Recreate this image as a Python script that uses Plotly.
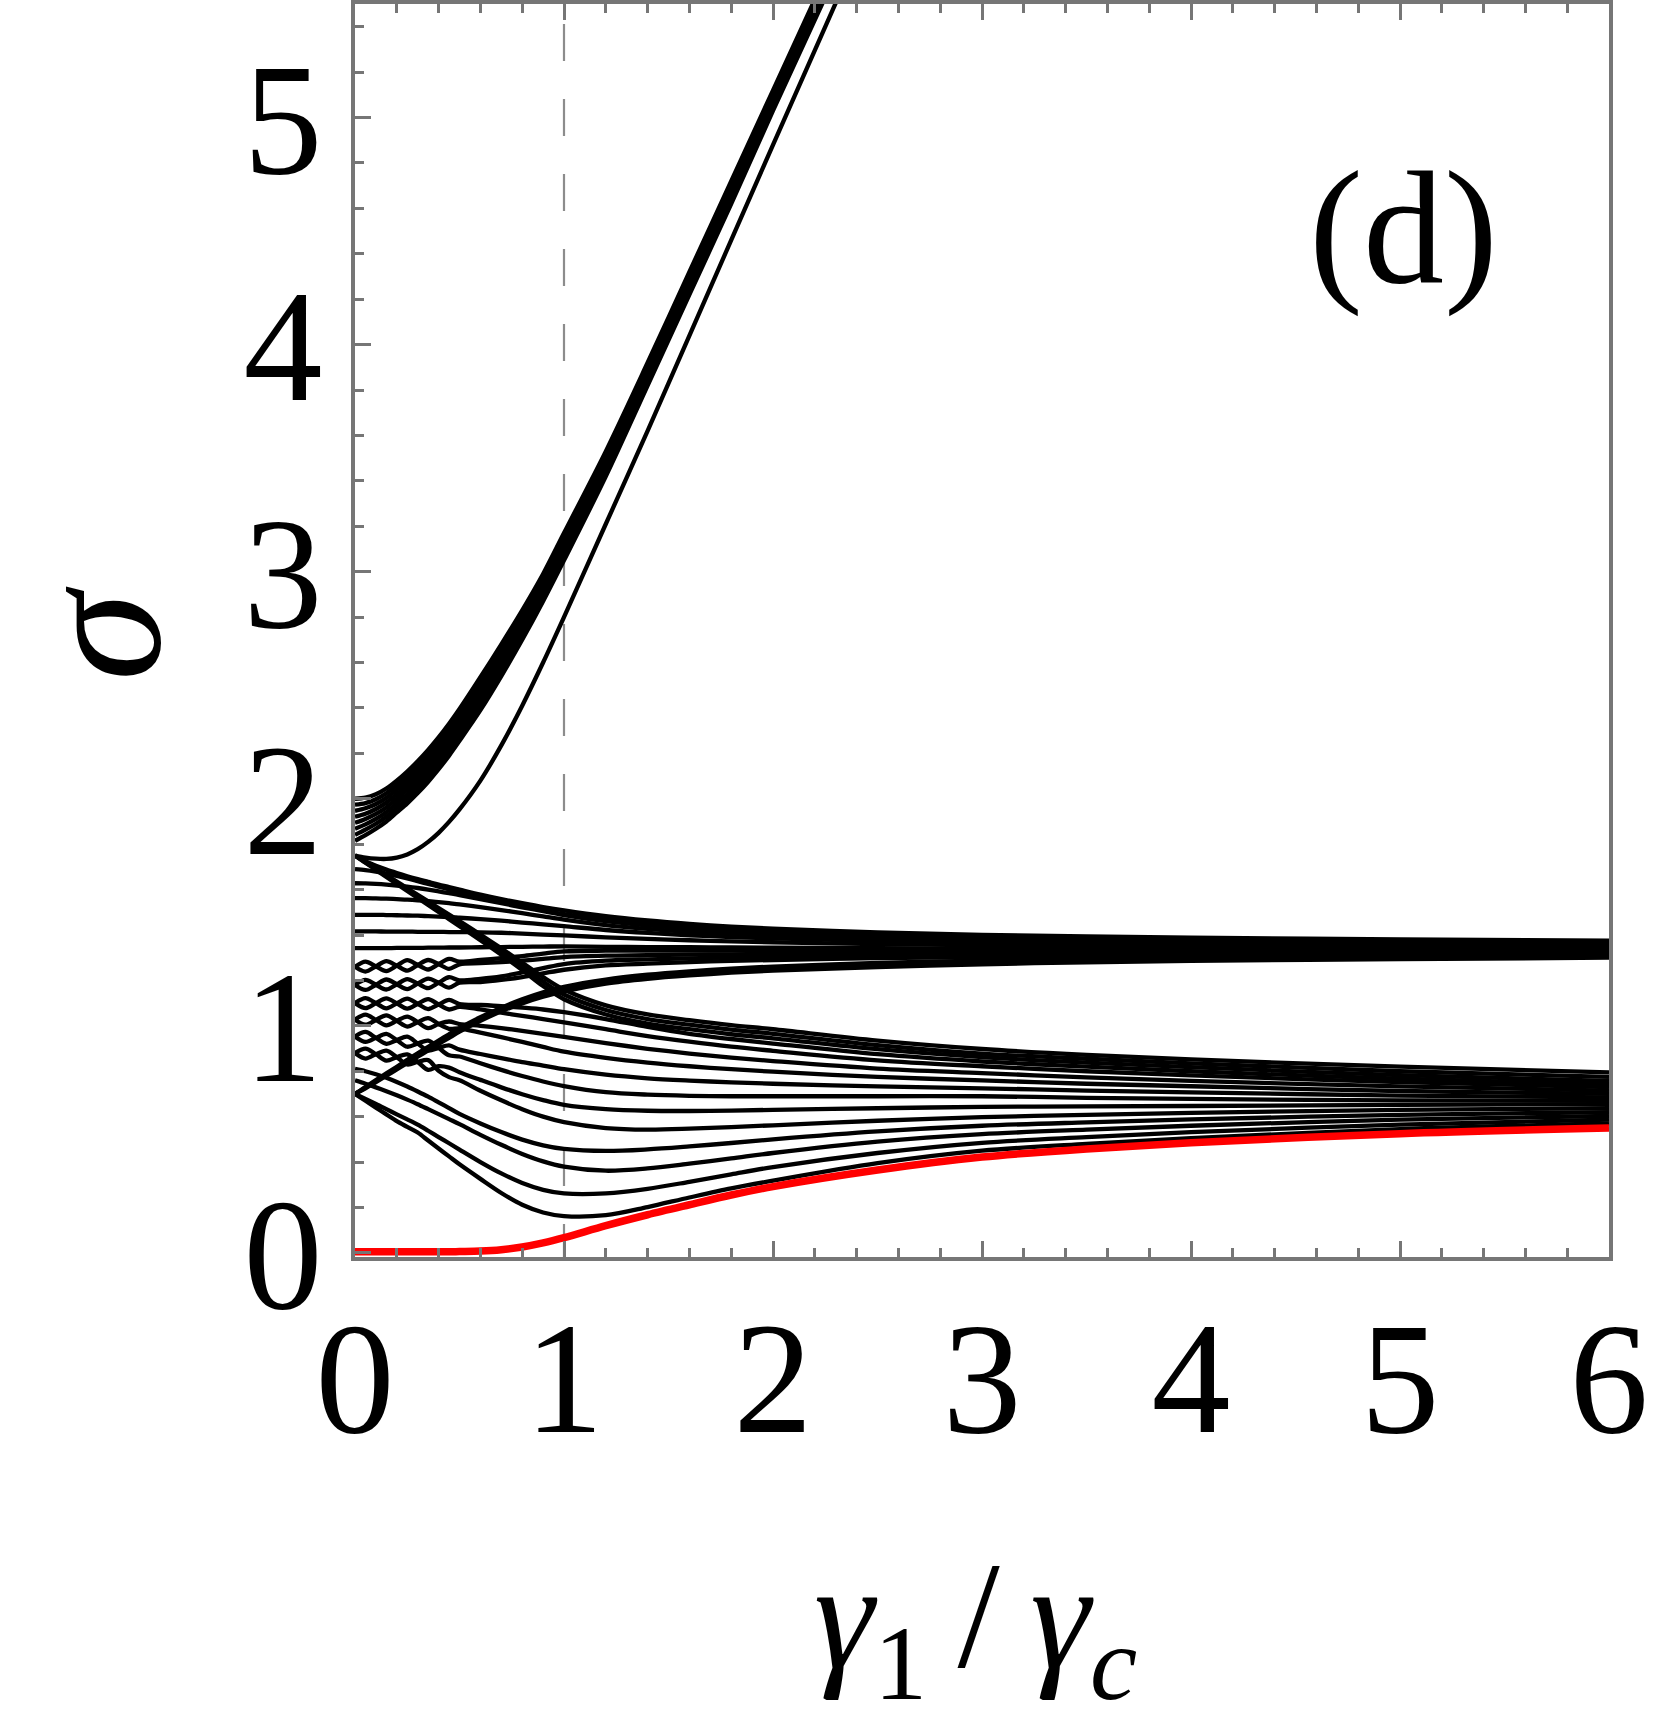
import plotly.graph_objects as go

# gamma_1 / gamma_c sample points
GAMMA = [0, 0.05, 0.1, 0.15, 0.2, 0.25, 0.3, 0.35, 0.4, 0.45,
         0.5, 0.6, 0.7, 0.8, 0.9, 1.0, 1.2, 1.4, 1.6, 1.8,
         2.0, 2.5, 3.0, 3.5, 4.0, 5.0, 6.0]
N = None

# upper branch (leaves the frame near gamma_1/gamma_c ~ 2.2)
U1 = [2.00, 2.005, 2.02, 2.045, 2.08, 2.12, 2.165, 2.215, 2.27, 2.33, 2.395, 2.535, 2.68, 2.83, 2.99, 3.17, 3.53, 3.92, 4.32, 4.72, 5.12, 6.12, N, N, N, N, N]
U2 = [1.974, 1.981, 1.998, 2.024, 2.06, 2.10, 2.145, 2.195, 2.25, 2.31, 2.375, 2.514, 2.66, 2.811, 2.973, 3.153, 3.514, 3.906, 4.306, 4.706, 5.107, 6.107, N, N, N, N, N]
U3 = [1.947, 1.958, 1.977, 2.004, 2.04, 2.08, 2.125, 2.175, 2.23, 2.29, 2.355, 2.494, 2.64, 2.793, 2.956, 3.136, 3.499, 3.891, 4.291, 4.691, 5.094, 6.094, N, N, N, N, N]
U4 = [1.921, 1.934, 1.955, 1.983, 2.02, 2.06, 2.105, 2.155, 2.21, 2.27, 2.335, 2.473, 2.62, 2.774, 2.939, 3.119, 3.483, 3.877, 4.277, 4.677, 5.081, 6.081, N, N, N, N, N]
U5 = [1.894, 1.911, 1.933, 1.962, 2.0, 2.04, 2.085, 2.135, 2.19, 2.25, 2.315, 2.452, 2.60, 2.756, 2.921, 3.101, 3.467, 3.863, 4.263, 4.663, 5.069, 6.069, N, N, N, N, N]
U6 = [1.868, 1.887, 1.911, 1.941, 1.98, 2.02, 2.065, 2.115, 2.17, 2.23, 2.295, 2.431, 2.58, 2.737, 2.904, 3.084, 3.451, 3.849, 4.249, 4.649, 5.056, 6.056, N, N, N, N, N]
U7 = [1.841, 1.864, 1.89, 1.921, 1.96, 2.0, 2.045, 2.095, 2.15, 2.21, 2.275, 2.411, 2.56, 2.719, 2.887, 3.067, 3.436, 3.834, 4.234, 4.634, 5.043, 6.043, N, N, N, N, N]
U8 = [1.815, 1.84, 1.868, 1.90, 1.94, 1.98, 2.025, 2.075, 2.13, 2.19, 2.255, 2.39, 2.54, 2.70, 2.87, 3.05, 3.42, 3.82, 4.22, 4.62, 5.03, 6.03, N, N, N, N, N]
T1 = [1.75, 1.741, 1.736, 1.735, 1.741, 1.755, 1.778, 1.81, 1.85, 1.898, 1.953, 2.08, 2.235, 2.41, 2.60, 2.80, 3.21, 3.62, 4.04, 4.46, 4.88, 5.92, N, N, N, N, N]

# middle branch (-> ~1.34)
M1 = [1.75, 1.725, 1.705, 1.688, 1.673, 1.659, 1.646, 1.634, 1.622, 1.611, 1.60, 1.578, 1.558, 1.54, 1.523, 1.508, 1.483, 1.464, 1.449, 1.437, 1.428, 1.411, 1.401, 1.394, 1.388, 1.381, 1.375]
M2 = [1.69, 1.686, 1.679, 1.67, 1.66, 1.649, 1.637, 1.625, 1.613, 1.601, 1.589, 1.567, 1.546, 1.527, 1.509, 1.492, 1.469, 1.451, 1.437, 1.426, 1.417, 1.402, 1.392, 1.385, 1.380, 1.373, 1.367]
M3 = [1.628, 1.627, 1.625, 1.622, 1.618, 1.613, 1.607, 1.60, 1.592, 1.584, 1.576, 1.558, 1.54, 1.522, 1.505, 1.488, 1.461, 1.442, 1.428, 1.417, 1.408, 1.393, 1.384, 1.378, 1.373, 1.366, 1.36]
M4 = [1.562, 1.562, 1.561, 1.56, 1.558, 1.556, 1.553, 1.549, 1.545, 1.54, 1.535, 1.523, 1.51, 1.496, 1.482, 1.468, 1.444, 1.427, 1.414, 1.404, 1.396, 1.383, 1.375, 1.369, 1.365, 1.359, 1.354]
M5 = [1.489, 1.489, 1.489, 1.488, 1.487, 1.486, 1.485, 1.483, 1.481, 1.479, 1.476, 1.47, 1.463, 1.455, 1.447, 1.439, 1.422, 1.409, 1.399, 1.391, 1.385, 1.374, 1.366, 1.361, 1.358, 1.352, 1.348]
M6 = [1.416, 1.416, 1.416, 1.415, 1.415, 1.415, 1.414, 1.414, 1.414, 1.413, 1.413, 1.412, 1.41, 1.406, 1.402, 1.398, 1.39, 1.383, 1.377, 1.372, 1.368, 1.360, 1.355, 1.351, 1.349, 1.345, 1.342]
M7 = [1.342, 1.342, 1.342, 1.342, 1.343, 1.343, 1.343, 1.344, 1.344, 1.345, 1.345, 1.346, 1.347, 1.348, 1.349, 1.35, 1.348, 1.347, 1.346, 1.345, 1.344, 1.342, 1.341, 1.340, 1.339, 1.337, 1.336]
MB4 = [1.26, 1.283, 1.262, 1.241, 1.265, 1.289, 1.268, 1.248, 1.272, 1.295, 1.283, 1.29, 1.298, 1.307, 1.318, 1.328, 1.331, 1.331, 1.331, 1.331, 1.331, 1.331, 1.331, 1.33, 1.33, 1.33, 1.33]
MB3 = [1.26, 1.239, 1.262, 1.285, 1.265, 1.243, 1.268, 1.29, 1.272, 1.251, 1.271, 1.276, 1.281, 1.287, 1.295, 1.303, 1.309, 1.311, 1.314, 1.315, 1.317, 1.319, 1.321, 1.322, 1.323, 1.324, 1.325]
MB2 = [1.18, 1.202, 1.181, 1.16, 1.183, 1.206, 1.186, 1.166, 1.19, 1.214, 1.20, 1.207, 1.218, 1.235, 1.254, 1.272, 1.287, 1.293, 1.297, 1.301, 1.304, 1.308, 1.312, 1.314, 1.316, 1.318, 1.32]
MB1 = [1.18, 1.158, 1.181, 1.204, 1.183, 1.162, 1.186, 1.208, 1.19, 1.168, 1.19, 1.193, 1.202, 1.215, 1.231, 1.247, 1.266, 1.274, 1.281, 1.286, 1.290, 1.298, 1.302, 1.306, 1.308, 1.312, 1.315]
MU1 = [0.70, 0.725, 0.752, 0.78, 0.808, 0.836, 0.864, 0.892, 0.92, 0.947, 0.974, 1.022, 1.064, 1.099, 1.128, 1.152, 1.186, 1.207, 1.222, 1.234, 1.243, 1.259, 1.271, 1.280, 1.286, 1.294, 1.30]
MU2 = [0.70, 0.728, 0.756, 0.785, 0.814, 0.843, 0.871, 0.899, 0.927, 0.955, 0.982, 1.03, 1.072, 1.108, 1.138, 1.162, 1.195, 1.216, 1.231, 1.243, 1.252, 1.268, 1.279, 1.287, 1.292, 1.299, 1.305]
MU3 = [0.70, 0.731, 0.761, 0.791, 0.82, 0.85, 0.879, 0.907, 0.935, 0.963, 0.99, 1.038, 1.08, 1.117, 1.148, 1.172, 1.204, 1.225, 1.240, 1.252, 1.261, 1.277, 1.287, 1.294, 1.298, 1.305, 1.31]

# lower branch (-> 0.57 .. 0.80)
B3 = [1.75, 1.722, 1.693, 1.664, 1.635, 1.606, 1.577, 1.548, 1.519, 1.49, 1.461, 1.402, 1.341, 1.278, 1.215, 1.16, 1.09, 1.05, 1.025, 1.003, 0.985, 0.935, 0.898, 0.872, 0.852, 0.82, 0.795]
B2 = [1.75, 1.72, 1.69, 1.66, 1.63, 1.60, 1.57, 1.54, 1.51, 1.48, 1.45, 1.39, 1.328, 1.262, 1.195, 1.138, 1.07, 1.03, 1.005, 0.983, 0.965, 0.915, 0.878, 0.855, 0.835, 0.80, 0.775]
B1 = [1.75, 1.718, 1.687, 1.656, 1.625, 1.594, 1.563, 1.532, 1.501, 1.47, 1.439, 1.377, 1.313, 1.246, 1.175, 1.117, 1.05, 1.01, 0.985, 0.963, 0.945, 0.897, 0.862, 0.838, 0.818, 0.783, 0.757]
P2 = [1.10, 1.122, 1.10, 1.077, 1.099, 1.12, 1.097, 1.074, 1.094, 1.114, 1.096, 1.092, 1.087, 1.08, 1.072, 1.06, 1.03, 0.995, 0.965, 0.942, 0.922, 0.875, 0.843, 0.82, 0.80, 0.767, 0.743]
P1 = [1.10, 1.078, 1.10, 1.121, 1.099, 1.076, 1.097, 1.118, 1.094, 1.072, 1.084, 1.072, 1.058, 1.044, 1.03, 1.015, 0.985, 0.955, 0.93, 0.908, 0.89, 0.848, 0.822, 0.80, 0.782, 0.752, 0.73]
L10 = [1.027, 1.049, 1.026, 1.002, 1.022, 1.041, 1.016, 0.99, 1.008, 1.019, 1.008, 1.0, 0.99, 0.978, 0.965, 0.951, 0.924, 0.899, 0.878, 0.86, 0.845, 0.812, 0.792, 0.773, 0.758, 0.733, 0.715]
L9 = [1.027, 1.005, 1.026, 1.046, 1.022, 0.997, 1.016, 1.034, 1.008, 0.987, 0.988, 0.97, 0.95, 0.929, 0.907, 0.886, 0.859, 0.838, 0.822, 0.809, 0.798, 0.775, 0.76, 0.745, 0.734, 0.713, 0.70]
L8 = [0.953, 0.973, 0.947, 0.921, 0.937, 0.952, 0.922, 0.891, 0.903, 0.914, 0.895, 0.876, 0.858, 0.84, 0.825, 0.809, 0.785, 0.769, 0.759, 0.751, 0.745, 0.733, 0.725, 0.715, 0.707, 0.693, 0.685]
L7 = [0.953, 0.929, 0.947, 0.965, 0.937, 0.908, 0.922, 0.935, 0.903, 0.87, 0.865, 0.835, 0.806, 0.779, 0.755, 0.735, 0.708, 0.697, 0.692, 0.69, 0.69, 0.69, 0.69, 0.683, 0.678, 0.672, 0.67]
L6 = [0.88, 0.90, 0.875, 0.847, 0.862, 0.874, 0.841, 0.806, 0.822, 0.816, 0.796, 0.762, 0.729, 0.699, 0.673, 0.652, 0.633, 0.626, 0.625, 0.627, 0.63, 0.637, 0.643, 0.645, 0.647, 0.652, 0.655]
L5 = [0.88, 0.856, 0.875, 0.891, 0.862, 0.83, 0.841, 0.849, 0.802, 0.774, 0.76, 0.714, 0.672, 0.633, 0.60, 0.576, 0.55, 0.543, 0.547, 0.554, 0.562, 0.582, 0.598, 0.608, 0.617, 0.63, 0.637]
L4 = [0.81, 0.80, 0.787, 0.771, 0.753, 0.733, 0.711, 0.688, 0.663, 0.638, 0.612, 0.57, 0.532, 0.499, 0.474, 0.458, 0.449, 0.456, 0.469, 0.484, 0.50, 0.535, 0.56, 0.575, 0.588, 0.608, 0.62]
L3 = [0.76, 0.745, 0.729, 0.712, 0.694, 0.675, 0.655, 0.633, 0.611, 0.589, 0.567, 0.52, 0.476, 0.436, 0.403, 0.38, 0.362, 0.372, 0.393, 0.416, 0.44, 0.49, 0.523, 0.543, 0.56, 0.587, 0.603]
L2 = [0.70, 0.678, 0.656, 0.633, 0.61, 0.588, 0.565, 0.538, 0.51, 0.483, 0.455, 0.40, 0.35, 0.308, 0.278, 0.262, 0.262, 0.282, 0.313, 0.346, 0.378, 0.44, 0.485, 0.51, 0.532, 0.565, 0.587]
L1 = [0.70, 0.67, 0.64, 0.61, 0.58, 0.555, 0.53, 0.495, 0.46, 0.425, 0.39, 0.326, 0.264, 0.212, 0.178, 0.162, 0.166, 0.202, 0.244, 0.284, 0.318, 0.395, 0.45, 0.48, 0.505, 0.545, 0.57]

# lowest singular value (red)
RED = [0.005, 0.005, 0.005, 0.005, 0.005, 0.005, 0.005, 0.005, 0.005, 0.005, 0.006, 0.008, 0.014, 0.026, 0.044, 0.067, 0.12, 0.168, 0.212, 0.255, 0.292, 0.365, 0.422, 0.458, 0.485, 0.525, 0.55]

BLACK = [U1, U2, U3, U4, U5, U6, U7, U8, T1,
         M1, M2, M3, M4, M5, M6, M7, MB4, MB3, MB2, MB1, MU1, MU2, MU3,
         B3, B2, B1, P2, P1, L10, L9, L8, L7, L6, L5, L4, L3, L2, L1]

SERIF = "Liberation Serif, Times New Roman, serif"
FRAME = "#767676"

fig = go.Figure()

for ys in BLACK:
    fig.add_trace(go.Scatter(x=GAMMA, y=ys, mode="lines",
                             line=dict(color="black", width=4.3, shape="spline", smoothing=0.9),
                             hoverinfo="skip", showlegend=False))

fig.add_trace(go.Scatter(x=GAMMA, y=RED, mode="lines",
                         line=dict(color="#ff0000", width=7.5, shape="spline", smoothing=0.9),
                         hoverinfo="skip", showlegend=False))

# dashed marker at gamma_1 = gamma_c
fig.add_shape(type="line", xref="x", yref="paper", x0=1, x1=1, y0=0.984, y1=0,
              line=dict(color="#8c8c8c", width=2.2, dash="37px,38px"), layer="below")

axis_common = dict(
    showline=True, linecolor=FRAME, linewidth=4,
    ticks="inside", ticklen=16, tickwidth=3, tickcolor=FRAME,
    showgrid=False, zeroline=False, automargin=False,
    tickfont=dict(family=SERIF, size=158, color="black"),
)

fig.update_xaxes(range=[0, 6], tick0=0, dtick=1, mirror="ticks",
                 minor=dict(dtick=0.2, ticks="inside", ticklen=9, tickwidth=3, tickcolor=FRAME),
                 ticklabelstandoff=-19, **axis_common)
fig.update_yaxes(range=[-0.018, 5.5], tick0=0, dtick=1, mirror=True,
                 minor=dict(dtick=0.2, ticks="inside", ticklen=9, tickwidth=3, tickcolor=FRAME),
                 ticklabelstandoff=-3, **axis_common)

fig.add_annotation(text="<i>σ</i>", xref="paper", yref="paper", x=-0.205, y=0.498,
                   xanchor="center", yanchor="middle", textangle=-90, showarrow=False,
                   font=dict(family=SERIF, size=180, color="black"))
fig.add_annotation(text="<i>γ</i><sub>1</sub>\u2009/\u2009<i>γ</i><sub><i>c</i></sub>",
                   xref="paper", yref="paper", x=0.4945, y=-0.295,
                   xanchor="center", yanchor="middle", showarrow=False,
                   font=dict(family=SERIF, size=152, color="black"))
fig.add_annotation(text="(d)", xref="paper", yref="paper", x=0.836, y=0.822,
                   xanchor="center", yanchor="middle", showarrow=False,
                   font=dict(family=SERIF, size=162, color="black"))

fig.update_layout(
    width=1661, height=1721,
    margin=dict(l=355, r=52, t=4, b=464),
    paper_bgcolor="white", plot_bgcolor="white",
    showlegend=False,
)

# the page's default body margin would shift the figure by 8 px
fig.write_html("out.html", config={"displayModeBar": False},
               post_script="document.body.style.margin='0';document.body.style.padding='0';")
